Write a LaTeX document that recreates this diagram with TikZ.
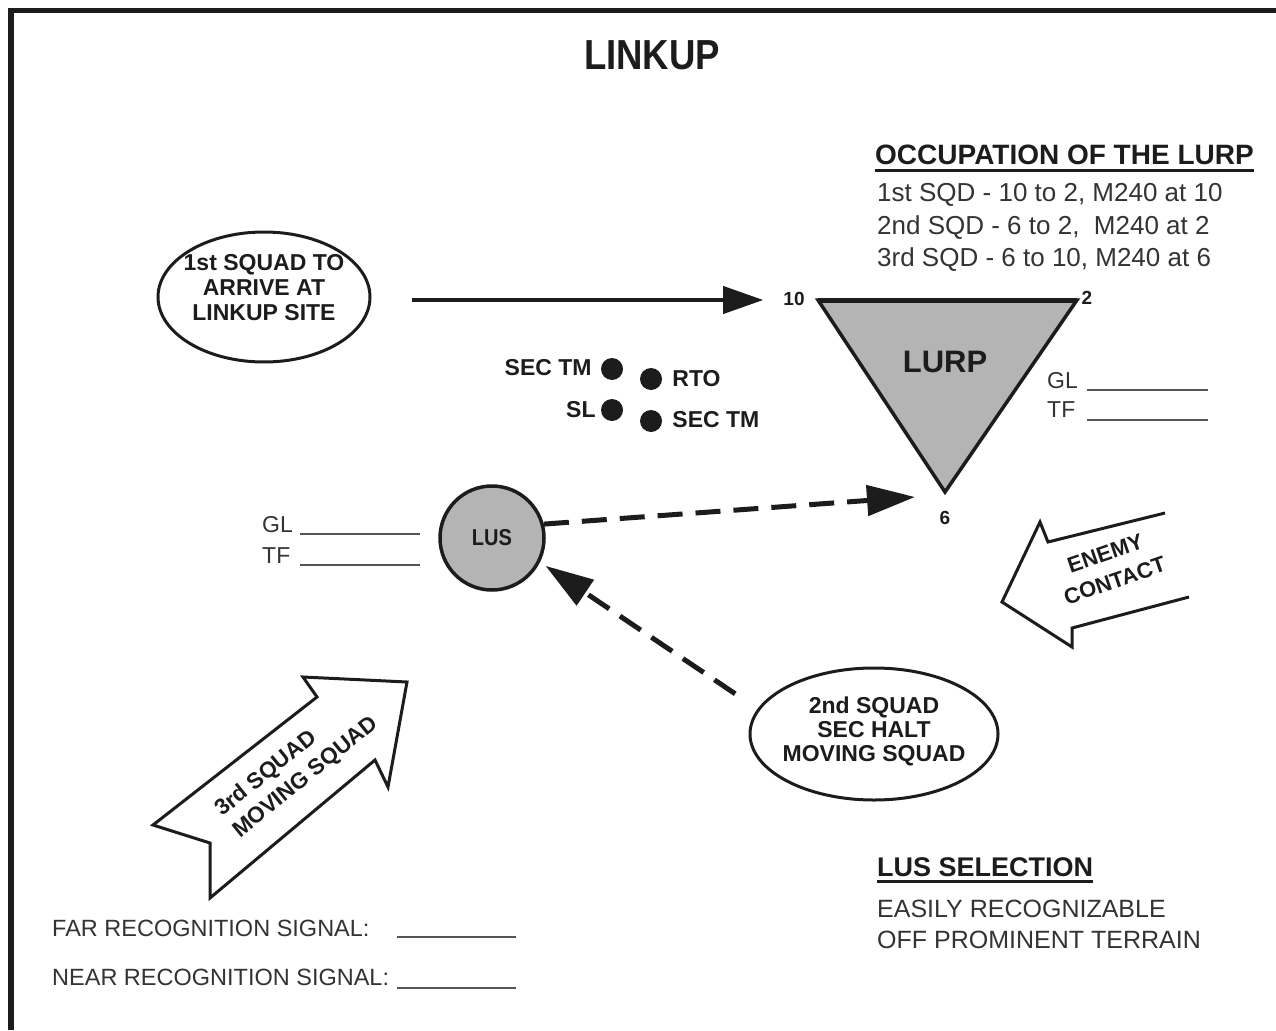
\documentclass[tikz,border=0pt]{standalone}
\usepackage{fontspec}
\setmainfont{Liberation Sans}
\newfontfamily\condfont[FakeStretch=0.87]{Liberation Sans}
\usetikzlibrary{arrows.meta,shapes.geometric}
\definecolor{ink}{HTML}{1C1C1C}
\definecolor{txt}{HTML}{333333}
\definecolor{fillgray}{HTML}{B4B4B4}
\definecolor{rulegray}{HTML}{555555}
\tikzset{
  btext/.style={font=\bfseries\fontsize{#1}{#1}\selectfont, text=ink, inner sep=0pt},
  rtext/.style={font=\fontsize{#1}{#1}\selectfont, text=txt, inner sep=0pt},
  blankline/.style={draw=rulegray, line width=2.5pt},
  dotmark/.style={circle, fill=ink, minimum size=22pt, inner sep=0pt},
  oval/.style={ellipse, draw=ink, line width=3pt, inner sep=0pt},
  dasharrow/.style={draw=ink, line width=5pt, dash pattern=on 25pt off 13pt, -{Triangle[length=48pt,width=30pt]}},
  blockarrow/.style={draw=ink, line width=3pt, line join=miter, fill=white}
}
\begin{document}
\begin{tikzpicture}[x=1pt,y=-1pt]
\useasboundingbox (0,0) rectangle (1276,1030);
% frame
\draw[ink, line width=5.5pt] (11,1030) -- (11,10.5) -- (1276,10.5);

% title
\node[btext=41, font=\condfont\bfseries\fontsize{42}{42}\selectfont] (title) at (652,55) {LINKUP};

% occupation block
\node[btext=28, anchor=west] (occ) at (875,155) {OCCUPATION OF THE LURP};
\draw[ink, line width=3pt] ([yshift=-5pt]occ.south west) -- ([yshift=-5pt]occ.south east);
\node[rtext=26, anchor=west] (o1) at (877,195) {1st SQD - 10 to 2, M240 at 10};
\node[rtext=26, anchor=west] (o2) at (877,228) {2nd SQD - 6 to 2,\ \ M240 at 2};
\node[rtext=26, anchor=west] (o3) at (877,260) {3rd SQD - 6 to 10, M240 at 6};

% first squad ellipse
\node[oval, minimum width=212pt, minimum height=130pt] (sq1) at (264,297) {};
\node[btext=23, align=center, font=\bfseries\fontsize{23}{25}\selectfont] (sq1t) at (264,288) {1st SQUAD TO\\ARRIVE AT\\LINKUP SITE};

% LURP triangle
\coordinate (v10) at (818,300);
\coordinate (v2) at (1077,300);
\coordinate (v6) at (945,492);
\draw[fill=fillgray, draw=ink, line width=3.5pt, line join=miter] (v10) -- (v2) -- (v6) -- cycle;
\draw[ink, line width=5pt] (v10) -- (v2);
\node[btext=31] (lurp) at (945,362) {LURP};
\node[btext=19] (l10) at (794,299) {10};
\node[btext=19] (l2) at (1087,298) {2};
\node[btext=19] (l6) at (945,518) {6};

% arrow 1st squad -> 10
\draw[ink, line width=4pt, -{Triangle[length=40pt,width=27pt]}] ([xshift=40pt,yshift=-3pt]sq1.east) -- ([xshift=-20pt,yshift=-1pt]l10.west);

% GL TF right
\node[rtext=23, anchor=west] (glr) at (1047,381) {GL};
\node[rtext=23, anchor=west] (tfr) at (1047,410) {TF};
\coordinate (glra) at (1087,390); \coordinate (glrb) at (1208,390);
\coordinate (tfra) at (1087,420); \coordinate (tfrb) at (1208,420);
\draw[blankline] (glra) -- (glrb);
\draw[blankline] (tfra) -- (tfrb);

% dots
\node[dotmark] (d1) at (612,369) {};
\node[dotmark] (d2) at (651,379) {};
\node[dotmark] (d3) at (612,410) {};
\node[dotmark] (d4) at (651,421) {};
\node[btext=23, anchor=east] (d1t) at ([xshift=-9pt,yshift=1pt]d1.west) {SEC TM};
\node[btext=23, anchor=west] (d2t) at ([xshift=10pt]d2.east) {RTO};
\node[btext=23, anchor=east] (d3t) at ([xshift=-5pt]d3.west) {SL};
\node[btext=23, anchor=west] (d4t) at ([xshift=10pt,yshift=1pt]d4.east) {SEC TM};

% LUS
\node[circle, draw=ink, fill=fillgray, line width=3.5pt, minimum size=104pt, inner sep=0pt, font=\condfont\bfseries\fontsize{23}{23}\selectfont, text=ink] (lus) at (492,538) {LUS};
\node[rtext=23, anchor=west] (gll) at (262,525) {GL};
\node[rtext=23, anchor=west] (tfl) at (262,556) {TF};
\coordinate (glla) at (300,534); \coordinate (gllb) at (420,534);
\coordinate (tfla) at (300,565); \coordinate (tflb) at (420,565);
\draw[blankline] (glla) -- (gllb);
\draw[blankline] (tfla) -- (tflb);

% dashed arrow LUS -> LURP
\draw[dasharrow] (lus.15) -- ([xshift=-30pt,yshift=-5pt]v6);

% second squad ellipse
\node[oval, minimum width=248pt, minimum height=132pt] (sq2) at (874,734) {};
\node[btext=23, align=center, font=\bfseries\fontsize{23}{24}\selectfont] (sq2t) at (874,731) {2nd SQUAD\\SEC HALT\\MOVING SQUAD};
\draw[dasharrow] ([xshift=-44pt,yshift=-4pt]sq2.155) -- ([xshift=7pt,yshift=-1pt]lus.-30);

% enemy contact block arrow (open tail)
\coordinate (e1) at (1165,513);
\coordinate (e2) at (1048,542);
\coordinate (e3) at (1040,522);
\coordinate (e4) at (1002,602);
\coordinate (e5) at (1072,647);
\coordinate (e6) at (1072,628);
\coordinate (e7) at (1189,597);
\draw[blockarrow] (e1) -- (e2) -- (e3) -- (e4) -- (e5) -- (e6) -- (e7);
\node[btext=22, align=center, rotate=19, font=\bfseries\fontsize{22}{29}\selectfont] (enemy) at (1110,567) {ENEMY\\CONTACT};

% third squad block arrow
\coordinate (t1) at (407,682);
\coordinate (t2) at (303,677);
\coordinate (t3) at (317,697);
\coordinate (t4) at (153,825);
\coordinate (t5) at (210,843);
\coordinate (t6) at (210,898);
\coordinate (t7) at (375,760);
\coordinate (t8) at (388,787);
\draw[blockarrow] (t1) -- (t2) -- (t3) -- (t4) -- (t5) -- (t6) -- (t7) -- (t8) -- cycle;
\node[btext=22, align=left, rotate=39, font=\bfseries\fontsize{22.5}{28}\selectfont] (third) at (297,767) {3rd SQUAD\\MOVING SQUAD};

% recognition signals
\node[rtext=23.5, anchor=west] (far) at (52,928) {FAR RECOGNITION SIGNAL:};
\node[rtext=23.5, anchor=west] (near) at (52,977) {NEAR RECOGNITION SIGNAL:};
\coordinate (fara) at (397,937); \coordinate (farb) at (516,937);
\coordinate (neara) at (397,988); \coordinate (nearb) at (516,988);
\draw[blankline] (fara) -- (farb);
\draw[blankline] (neara) -- (nearb);

% LUS selection
\node[btext=27, anchor=west] (lsel) at (877,867) {LUS SELECTION};
\draw[ink, line width=3pt] ([yshift=-5pt]lsel.south west) -- ([yshift=-5pt]lsel.south east);
\node[rtext=25, anchor=west] (ls1) at (877,909) {EASILY RECOGNIZABLE};
\node[rtext=25, anchor=west] (ls2) at (877,940) {OFF PROMINENT TERRAIN};
\end{tikzpicture}
\end{document}
